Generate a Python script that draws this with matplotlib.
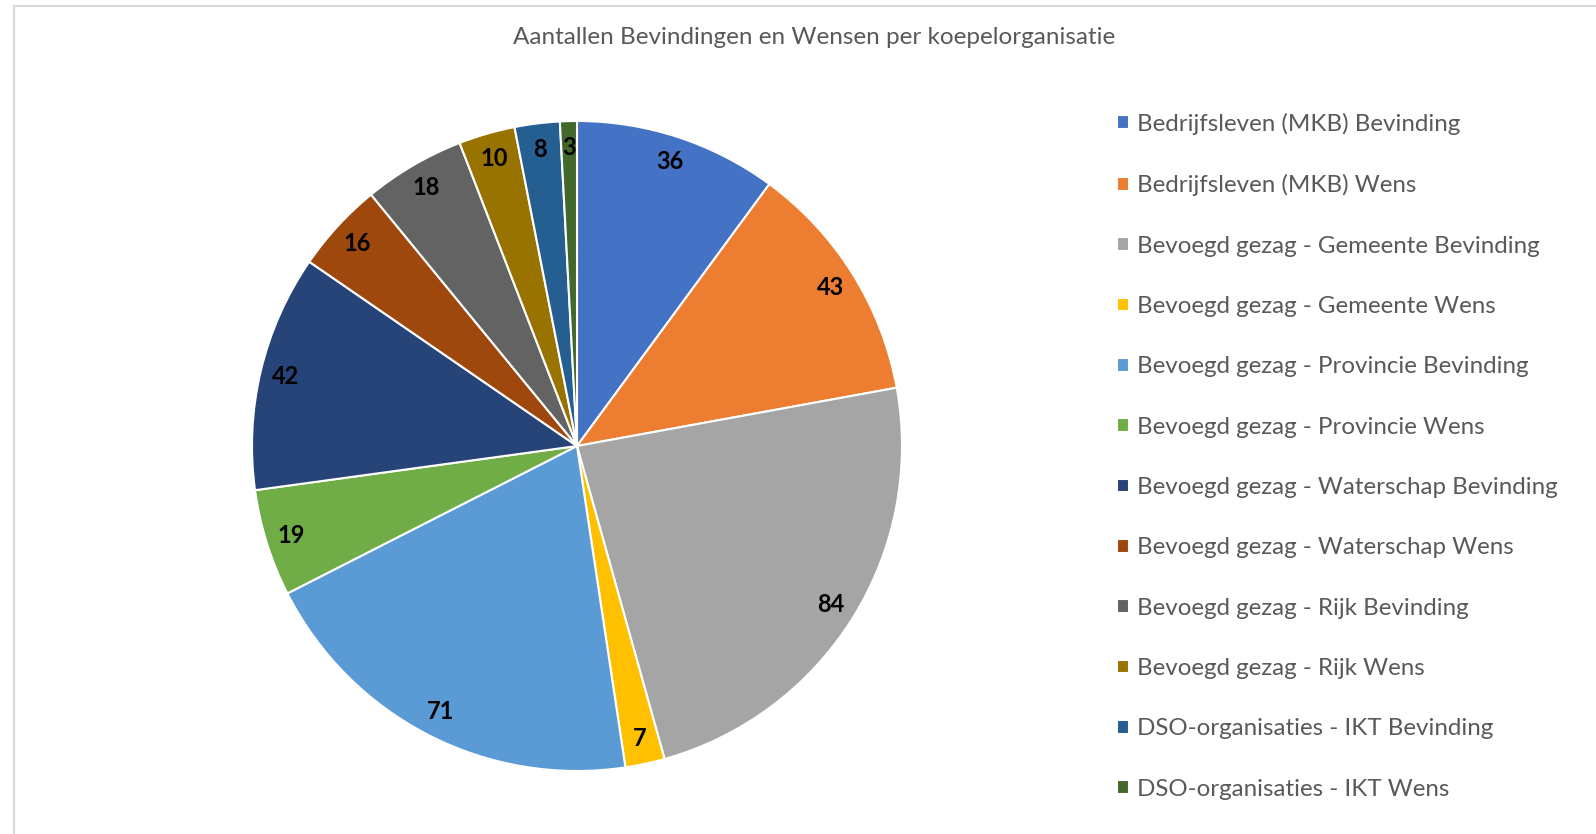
import matplotlib
matplotlib.use("Agg")
import matplotlib.pyplot as plt
from matplotlib.lines import Line2D

categories = [
    "Bedrijfsleven (MKB) Bevinding",
    "Bedrijfsleven (MKB) Wens",
    "Bevoegd gezag - Gemeente Bevinding",
    "Bevoegd gezag - Gemeente Wens",
    "Bevoegd gezag - Provincie Bevinding",
    "Bevoegd gezag - Provincie Wens",
    "Bevoegd gezag - Waterschap Bevinding",
    "Bevoegd gezag - Waterschap Wens",
    "Bevoegd gezag - Rijk Bevinding",
    "Bevoegd gezag - Rijk Wens",
    "DSO-organisaties - IKT Bevinding",
    "DSO-organisaties - IKT Wens",
]
values = [36, 43, 84, 7, 71, 19, 42, 16, 18, 10, 8, 3]
colors = ["#4472C4", "#ED7D31", "#A5A5A5", "#FFC000", "#5B9BD5", "#70AD47",
          "#264478", "#9E480E", "#636363", "#997300", "#255E91", "#43682B"]
title = "Aantallen Bevindingen en Wensen per koepelorganisatie"

W, H = 1596, 834
fig = plt.figure(figsize=(W / 100, H / 100), dpi=100)
plt.rcParams['font.family'] = ['Lato', 'DejaVu Sans']

# chart border (top and left visible)
fig.add_artist(Line2D([14 / W, 14 / W], [0, 1 - 6 / H], color="#D9D9D9", lw=1.5, transform=fig.transFigure))
fig.add_artist(Line2D([14 / W, 1], [1 - 6 / H, 1 - 6 / H], color="#D9D9D9", lw=1.5, transform=fig.transFigure))

cx, cy, r = 577, 446, 325
ax = fig.add_axes([(cx - r) / W, (H - cy - r) / H, 2 * r / W, 2 * r / H])
wedges, texts = ax.pie(values, colors=colors, startangle=90, counterclock=False,
                       labels=[str(v) for v in values], labeldistance=0.92,
                       wedgeprops=dict(edgecolor="white", linewidth=1.5),
                       textprops=dict(fontsize=17, fontweight="bold", color="black"))
for t in texts:
    t.set_ha("center")
    t.set_va("center")
ax.set_xlim(-1, 1)
ax.set_ylim(-1, 1)
ax.set_aspect("equal")
ax.axis("off")

fig.text(814 / W, 1 - 38 / H, title, ha="center", va="center", fontsize=17.5, color="#595959")

leg = fig.legend(wedges, categories, loc="upper left", bbox_to_anchor=(1095 / W, 1 - 91 / H),
                 frameon=False, fontsize=17.4, handlelength=0.5, handleheight=0.5,
                 handletextpad=0.35, labelspacing=1.628, labelcolor="#595959")

fig.savefig("out.png", dpi=100)
